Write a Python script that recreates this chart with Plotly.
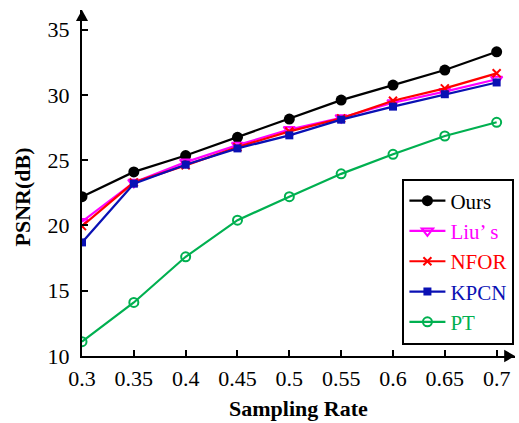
import plotly.graph_objects as go

rates = [0.3, 0.35, 0.4, 0.45, 0.5, 0.55, 0.6, 0.65, 0.7]
tick_labels = ["0.3", "0.35", "0.4", "0.45", "0.5", "0.55", "0.6", "0.65", "0.7"]
ours = [22.2, 24.1, 25.35, 26.75, 28.15, 29.6, 30.75, 31.9, 33.3]
lius = [20.3, 23.3, 24.85, 26.15, 27.35, 28.25, 29.4, 30.25, 31.2]
nfor = [19.95, 23.3, 24.6, 26.0, 27.2, 28.2, 29.55, 30.5, 31.65]
kpcn = [18.7, 23.2, 24.65, 25.9, 26.9, 28.1, 29.1, 30.05, 30.95]
pt = [11.1, 14.1, 17.6, 20.4, 22.2, 23.95, 25.45, 26.85, 27.9]

FONT = "Liberation Serif, Times New Roman, serif"
series = [
    ("Ours", ours, "#000000", dict(symbol="circle", size=11)),
    ("Liu’ s", lius, "#FF00FF", dict(symbol="triangle-down-open", size=10, line=dict(width=2))),
    ("NFOR", nfor, "#FF0000", dict(symbol="x-thin-open", size=8, line=dict(width=2, color="#FF0000"))),
    ("KPCN", kpcn, "#0A10B4", dict(symbol="square", size=8)),
    ("PT", pt, "#00B050", dict(symbol="circle-open", size=9, line=dict(width=2))),
]

fig = go.Figure()
for name, vals, col, mk in series:
    mk = dict(mk)
    mk["color"] = col
    fig.add_trace(go.Scatter(
        x=rates, y=vals, mode="lines+markers",
        name=f"<span style='color:{col};font-family:Liberation Serif'>{name}</span>",
        line=dict(color=col, width=2.2), marker=mk,
    ))

fig.update_layout(
    width=519, height=423,
    margin=dict(l=82, r=4, t=10, b=67, autoexpand=False),
    paper_bgcolor="white", plot_bgcolor="white",
    font=dict(family=FONT, size=22, color="black"),
    showlegend=True,
    legend=dict(
        x=0.74, y=0.513, xanchor="left", yanchor="top",
        bordercolor="black", borderwidth=2, bgcolor="white",
        font=dict(family=FONT, size=21), tracegroupgap=0, itemwidth=36,
    ),
    xaxis=dict(
        range=[0.3, 0.7177], tickvals=rates, ticktext=tick_labels,
        showgrid=False, zeroline=False, showline=True, linecolor="black", linewidth=2,
        ticks="inside", ticklen=6, tickwidth=2, tickcolor="black",
        automargin=False, ticklabelstandoff=2,
    ),
    yaxis=dict(
        range=[10, 36.5], tickvals=[10, 15, 20, 25, 30, 35],
        showgrid=False, zeroline=False, showline=True, linecolor="black", linewidth=2,
        ticks="inside", ticklen=6, tickwidth=2, tickcolor="black",
        ticklabelstandoff=6, automargin=False,
    ),
)

fig.add_annotation(text="<b>Sampling Rate</b>", xref="paper", yref="paper",
                   x=0.5, y=-0.152, xanchor="center", yanchor="middle",
                   showarrow=False, font=dict(family=FONT, size=22))
fig.add_annotation(text="<b>PSNR(dB)</b>", xref="paper", yref="paper",
                   x=-0.137, y=0.46, xanchor="center", yanchor="middle", textangle=-90,
                   showarrow=False, font=dict(family=FONT, size=22))

# axis arrowheads
fig.add_shape(type="path", xref="paper", yref="paper",
              path="M 1.0 0 L 0.975 0.018 L 0.975 -0.018 Z",
              fillcolor="black", line=dict(color="black", width=0))
fig.add_shape(type="path", xref="paper", yref="paper",
              path="M 0 1.0 L -0.014 0.968 L 0.014 0.968 Z",
              fillcolor="black", line=dict(color="black", width=0))

fig.write_html("out.html", config={"displayModeBar": False},
               post_script="document.body.style.margin='0px';document.body.style.overflow='hidden';")
